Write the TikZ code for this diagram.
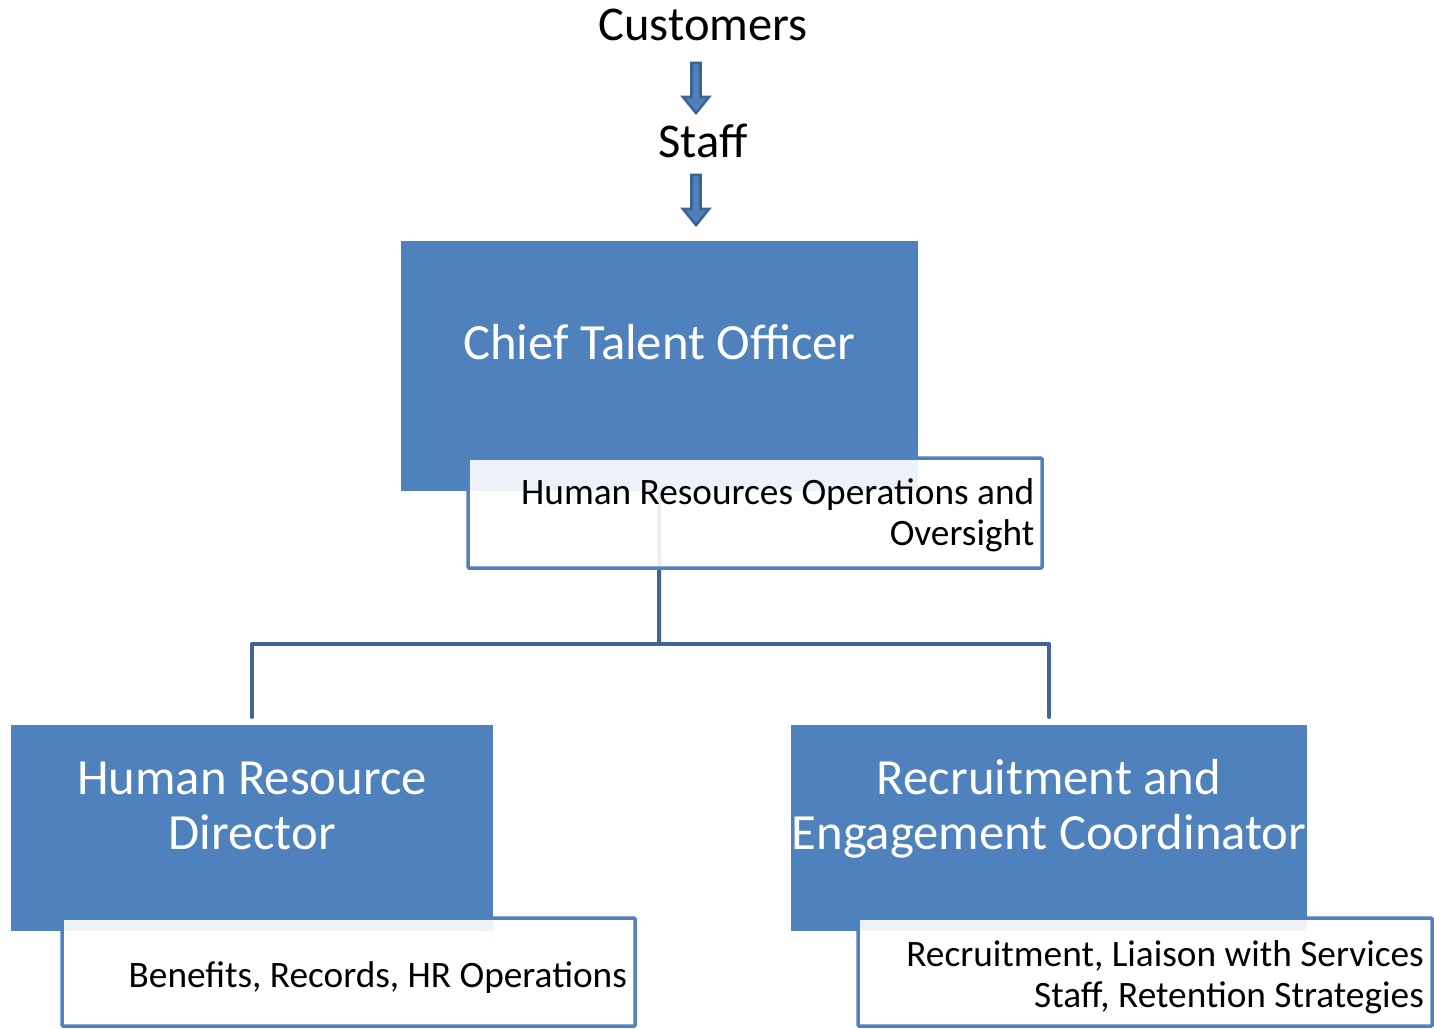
\documentclass[tikz,border=0pt]{standalone}
\usepackage{fontspec}
\setmainfont{Carlito}
\definecolor{boxblue}{HTML}{4F81BD}
\definecolor{linkblue}{HTML}{3D6597}
\definecolor{arrdraw}{HTML}{3B6494}
\tikzset{
  x=1pt, y=-1pt,
  rolebox/.style={draw=none, fill=boxblue, minimum width=#1, inner sep=0pt},
  notebox/.style={draw=boxblue, line width=3.5pt, fill=white, fill opacity=0.9, text opacity=1, inner sep=0pt, rounded corners=1pt},
  roletitle/.style={text=white, font=\fontsize{50.7}{54.5}\selectfont, align=center, inner sep=0pt, anchor=base},
  notetext/.style={text=black, font=\fontsize{37.3}{41}\selectfont, align=right, inner sep=0pt, anchor=base east},
  toptext/.style={text=black, font=\fontsize{48.5}{52}\selectfont, inner sep=0pt, anchor=base},
  conn/.style={draw=linkblue, line width=4pt, line join=round, line cap=round},
  blockarrow/.pic={\draw[fill=boxblue, draw=arrdraw, line width=2.6pt, line join=miter]
     (-4.5,1) -- (4.5,1) -- (4.5,35) -- (13,35) -- (0,51) -- (-13,35) -- (-4.5,35) -- cycle;}
}
\begin{document}
\begin{tikzpicture}
\useasboundingbox (0,0) rectangle (1434,1028);
% top chain
\node[toptext] (cust) at (703,40.5) {Customers};
\node[toptext] (staff) at (703,157.5) {Staff};
\pic at (696,62) {blockarrow};
\pic at (696,174) {blockarrow};
% boxes
\node[rolebox=517pt, minimum height=250pt] (cto) at (659.5,366) {};
\node[rolebox=482pt, minimum height=206pt] (hrd) at (252,828) {};
\node[rolebox=516pt, minimum height=206pt] (rec) at (1049,828) {};
% connectors
\coordinate (bus) at (659,644);
\coordinate (hrdtop) at (252,717);
\coordinate (rectop) at (1049,717);
\draw[conn] (cto.south) -- (bus);
\draw[conn] (hrdtop) |- (bus) -| (rectop);
% titles
\node[roletitle] (ctot) at (659.5,359) {Chief Talent Officer};
\node[roletitle] (hrdt) at (252,849) {Human Resource\\Director};
\node[roletitle] (rect) at (1049,849) {Recruitment and\\Engagement Coordinator};
% note boxes
\node[notebox, minimum width=574pt, minimum height=110pt] (ctonote) at (755,513) {};
\node[notebox, minimum width=573pt, minimum height=108pt] (hrdnote) at (348.5,972) {};
\node[notebox, minimum width=574pt, minimum height=108pt] (recnote) at (1145,972) {};
\node[notetext] (ctonotet) at (1034.5,545) {Human Resources Operations and\\Oversight};
\node[notetext] (hrdnotet) at (627,987.5) {Benefits, Records, HR Operations};
\node[notetext] (recnotet) at (1424,1007.5) {Recruitment, Liaison with Services\\Staff, Retention Strategies};
\end{tikzpicture}
\end{document}
